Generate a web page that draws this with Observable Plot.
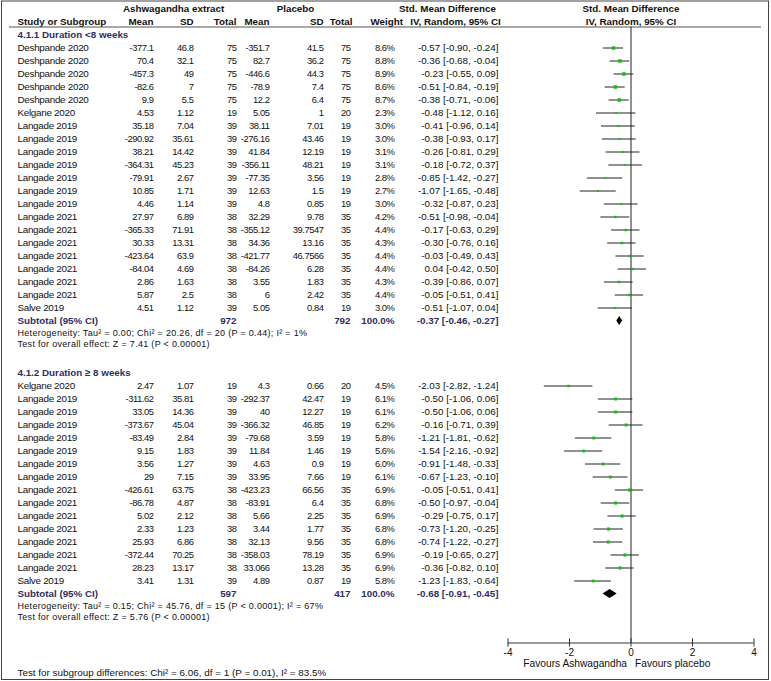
<!DOCTYPE html>
<html>
<head>
<meta charset="utf-8">
<script src="https://cdn.jsdelivr.net/npm/d3@7"></script>
<script src="https://cdn.jsdelivr.net/npm/@observablehq/plot@0.6"></script>
<style>
  body { margin: 0; background: #fff; }
  #chart svg { display: block; }
  #chart g[aria-description="num"] text { letter-spacing: -0.45px; }
  #chart g[aria-description="name"] text { letter-spacing: -0.3px; }
  #chart g[aria-description="stat"] text { letter-spacing: 0.3px; }
</style>
</head>
<body>
<div id="chart"></div>
<script>
// ---- Data ----
// [study, mean1, sd1, total1, mean2, sd2, total2, weight%, smd, lo, hi]
const group1 = [
  ["Deshpande 2020", -377.1, 46.8, 75, -351.7, 41.5, 75, 8.6, -0.57, -0.90, -0.24],
  ["Deshpande 2020", 70.4, 32.1, 75, 82.7, 36.2, 75, 8.8, -0.36, -0.68, -0.04],
  ["Deshpande 2020", -457.3, 49, 75, -446.6, 44.3, 75, 8.9, -0.23, -0.55, 0.09],
  ["Deshpande 2020", -82.6, 7, 75, -78.9, 7.4, 75, 8.6, -0.51, -0.84, -0.19],
  ["Deshpande 2020", 9.9, 5.5, 75, 12.2, 6.4, 75, 8.7, -0.38, -0.71, -0.06],
  ["Kelgane 2020", 4.53, 1.12, 19, 5.05, 1, 20, 2.3, -0.48, -1.12, 0.16],
  ["Langade 2019", 35.18, 7.04, 39, 38.11, 7.01, 19, 3.0, -0.41, -0.96, 0.14],
  ["Langade 2019", -290.92, 35.61, 39, -276.16, 43.46, 19, 3.0, -0.38, -0.93, 0.17],
  ["Langade 2019", 38.21, 14.42, 39, 41.84, 12.19, 19, 3.1, -0.26, -0.81, 0.29],
  ["Langade 2019", -364.31, 45.23, 39, -356.11, 48.21, 19, 3.1, -0.18, -0.72, 0.37],
  ["Langade 2019", -79.91, 2.67, 39, -77.35, 3.56, 19, 2.8, -0.85, -1.42, -0.27],
  ["Langade 2019", 10.85, 1.71, 39, 12.63, 1.5, 19, 2.7, -1.07, -1.65, -0.48],
  ["Langade 2019", 4.46, 1.14, 39, 4.8, 0.85, 19, 3.0, -0.32, -0.87, 0.23],
  ["Langade 2021", 27.97, 6.89, 38, 32.29, 9.78, 35, 4.2, -0.51, -0.98, -0.04],
  ["Langade 2021", -365.33, 71.91, 38, -355.12, 39.7547, 35, 4.4, -0.17, -0.63, 0.29],
  ["Langade 2021", 30.33, 13.31, 38, 34.36, 13.16, 35, 4.3, -0.30, -0.76, 0.16],
  ["Langade 2021", -423.64, 63.9, 38, -421.77, 46.7566, 35, 4.4, -0.03, -0.49, 0.43],
  ["Langade 2021", -84.04, 4.69, 38, -84.26, 6.28, 35, 4.4, 0.04, -0.42, 0.50],
  ["Langade 2021", 2.86, 1.63, 38, 3.55, 1.83, 35, 4.3, -0.39, -0.86, 0.07],
  ["Langade 2021", 5.87, 2.5, 38, 6, 2.42, 35, 4.4, -0.05, -0.51, 0.41],
  ["Salve 2019", 4.51, 1.12, 39, 5.05, 0.84, 19, 3.0, -0.51, -1.07, 0.04]
];
const group2 = [
  ["Kelgane 2020", 2.47, 1.07, 19, 4.3, 0.66, 20, 4.5, -2.03, -2.82, -1.24],
  ["Langade 2019", -311.62, 35.81, 39, -292.37, 42.47, 19, 6.1, -0.50, -1.06, 0.06],
  ["Langade 2019", 33.05, 14.36, 39, 40, 12.27, 19, 6.1, -0.50, -1.06, 0.06],
  ["Langade 2019", -373.67, 45.04, 39, -366.32, 46.85, 19, 6.2, -0.16, -0.71, 0.39],
  ["Langade 2019", -83.49, 2.84, 39, -79.68, 3.59, 19, 5.8, -1.21, -1.81, -0.62],
  ["Langade 2019", 9.15, 1.83, 39, 11.84, 1.46, 19, 5.6, -1.54, -2.16, -0.92],
  ["Langade 2019", 3.56, 1.27, 39, 4.63, 0.9, 19, 6.0, -0.91, -1.48, -0.33],
  ["Langade 2019", 29, 7.15, 39, 33.95, 7.66, 19, 6.1, -0.67, -1.23, -0.10],
  ["Langade 2021", -426.61, 63.75, 38, -423.23, 66.56, 35, 6.9, -0.05, -0.51, 0.41],
  ["Langade 2021", -86.78, 4.87, 38, -83.91, 6.4, 35, 6.8, -0.50, -0.97, -0.04],
  ["Langade 2021", 5.02, 2.12, 38, 5.66, 2.25, 35, 6.9, -0.29, -0.75, 0.17],
  ["Langade 2021", 2.33, 1.23, 38, 3.44, 1.77, 35, 6.8, -0.73, -1.20, -0.25],
  ["Langade 2021", 25.93, 6.86, 38, 32.13, 9.56, 35, 6.8, -0.74, -1.22, -0.27],
  ["Langade 2021", -372.44, 70.25, 38, -358.03, 78.19, 35, 6.9, -0.19, -0.65, 0.27],
  ["Langade 2021", 28.23, 13.17, 38, 33.066, 13.28, 35, 6.9, -0.36, -0.82, 0.10],
  ["Salve 2019", 3.41, 1.31, 39, 4.89, 0.87, 19, 5.8, -1.23, -1.83, -0.64]
];
const groupTitles = ["4.1.1 Duration <8 weeks", "4.1.2 Duration \u2265 8 weeks"];
// [total1, total2, weight, smd, lo, hi]
const subtotals = [
  [972, 792, 100.0, -0.37, -0.46, -0.27],
  [597, 417, 100.0, -0.68, -0.91, -0.45]
];
const heterogeneity = [
  "Heterogeneity: Tau\u00b2 = 0.00; Chi\u00b2 = 20.26, df = 20 (P = 0.44); I\u00b2 = 1%",
  "Heterogeneity: Tau\u00b2 = 0.15; Chi\u00b2 = 45.76, df = 15 (P < 0.0001); I\u00b2 = 67%"
];
const overallEffect = [
  "Test for overall effect: Z = 7.41 (P < 0.00001)",
  "Test for overall effect: Z = 5.76 (P < 0.00001)"
];
const subgroupTest = "Test for subgroup differences: Chi\u00b2 = 6.06, df = 1 (P = 0.01), I\u00b2 = 83.5%";
const axisTicks = [-4, -2, 0, 2, 4];
const favours = ["Favours Ashwagandha", "Favours placebo"];

// ---- Layout (rows) ----
const groupStart = [0, 26];           // row index of each group's title
const rows = [];
const subs = [];
[group1, group2].forEach((g, gi) => {
  const s = groupStart[gi];
  g.forEach((r, k) => rows.push({
    g: gi, i: s + 1 + k, study: r[0], m1: r[1], s1: r[2], n1: r[3],
    m2: r[4], s2: r[5], n2: r[6], w: r[7], est: r[8], lo: r[9], hi: r[10]
  }));
  const t = subtotals[gi];
  const si = s + 1 + g.length;
  subs.push({g: gi, title: groupTitles[gi], ti: s, i: si, n1: t[0], n2: t[1], w: t[2], est: t[3], lo: t[4], hi: t[5],
             het: heterogeneity[gi], ove: overallEffect[gi]});
});
const diamondPts = subs.flatMap(s => [
  {g: s.g, x: s.lo, y1: s.i, y2: s.i},
  {g: s.g, x: s.est, y1: s.i - 0.34, y2: s.i + 0.34},
  {g: s.g, x: s.hi, y1: s.i, y2: s.i}
]);

const fmt2 = v => v.toFixed(2);
const ciText = d => `${fmt2(d.est)} [${fmt2(d.lo)}, ${fmt2(d.hi)}]`;

const HEAD1 = -2.04, HEAD2 = -1.04, HLINE = -0.615;
const AXIS = 46.77, TICKLAB = 47.55, FAV = 48.4, FOOT = 49.1;
const font = "'Liberation Sans', Arial, Helvetica, sans-serif";
const FS = 9.9, FN = 9.4, FH = 9.8, FSS = 9;
const navy = "#2f2f5f";

const col = {study: 17, m1: 153, s1: 193, n1: 236, m2: 269, s2: 323, n2: 350, w: 394, ci: 498};

const T = (data, opts) => Plot.text(data, {frameAnchor: "left", fontSize: FS, fill: "#111", ...opts});
const N = (data, opts) => T(data, {fontSize: FN, textAnchor: "end", ariaDescription: "num", ...opts});

const headerRow1 = [
  {t: "Ashwagandha extract", dx: 173},
  {t: "Placebo", dx: 295},
  {t: "Std. Mean Difference", dx: 447}
];
const headerRow2 = [
  {t: "Study or Subgroup", dx: col.study, a: "start"},
  {t: "Mean", dx: col.m1, a: "end"},
  {t: "SD", dx: col.s1, a: "end"},
  {t: "Total", dx: col.n1, a: "end"},
  {t: "Mean", dx: col.m2, a: "end"},
  {t: "SD", dx: col.s2, a: "end"},
  {t: "Total", dx: col.n2 + 2, a: "end"},
  {t: "Weight", dx: 370, a: "start"},
  {t: "IV, Random, 95% CI", dx: 455, a: "middle"}
];

const marks = [
  Plot.frame({stroke: "#444", insetLeft: 1, insetRight: 3, insetBottom: 2, insetTop: 0.5}),
  // header
  ...headerRow1.map(h => T([h], {y: () => HEAD1, text: d => d.t, dx: h.dx, textAnchor: "middle", fontWeight: "bold", fontSize: FH})),
  ...headerRow2.map(h => T([h], {y: () => HEAD2, text: d => d.t, dx: h.dx, textAnchor: h.a, fontWeight: "bold", fontSize: FH})),
  Plot.text(["Std. Mean Difference"], {x: () => 0, y: () => HEAD1, text: d => d, fontSize: FH, fontWeight: "bold", fill: "#111"}),
  Plot.text(["IV, Random, 95% CI"], {x: () => 0, y: () => HEAD2, text: d => d, fontSize: FH, fontWeight: "bold", fill: "#111"}),
  Plot.ruleY([HLINE], {stroke: "#555", insetLeft: 9, insetRight: 10}),
  // group titles
  T(subs, {y: "ti", text: "title", dx: col.study, textAnchor: "start", fontWeight: "bold", fill: navy, fontSize: FH}),
  // study rows
  T(rows, {y: "i", text: "study", dx: col.study, textAnchor: "start", ariaDescription: "name"}),
  N(rows, {y: "i", text: d => String(d.m1), dx: col.m1}),
  N(rows, {y: "i", text: d => String(d.s1), dx: col.s1}),
  N(rows, {y: "i", text: d => String(d.n1), dx: col.n1}),
  N(rows, {y: "i", text: d => String(d.m2), dx: col.m2}),
  N(rows, {y: "i", text: d => String(d.s2), dx: col.s2}),
  N(rows, {y: "i", text: d => String(d.n2), dx: col.n2}),
  N(rows, {y: "i", text: d => d.w.toFixed(1) + "%", dx: col.w}),
  T(rows, {y: "i", text: ciText, dx: col.ci, textAnchor: "end", fontSize: 9.8}),
  // subtotal rows
  T(subs, {y: "i", text: () => "Subtotal (95% CI)", dx: col.study, textAnchor: "start", fontWeight: "bold", fill: navy, fontSize: FH}),
  T(subs, {y: "i", text: d => String(d.n1), dx: col.n1, textAnchor: "end", fontWeight: "bold", fill: navy, fontSize: FH}),
  T(subs, {y: "i", text: d => String(d.n2), dx: col.n2, textAnchor: "end", fontWeight: "bold", fill: navy, fontSize: FH}),
  T(subs, {y: "i", text: d => d.w.toFixed(1) + "%", dx: col.w, textAnchor: "end", fontWeight: "bold", fill: navy, fontSize: FH}),
  T(subs, {y: "i", text: ciText, dx: col.ci, textAnchor: "end", fontWeight: "bold", fill: navy, fontSize: FH}),
  T(subs, {y: d => d.i + 0.93, text: "het", dx: col.study, textAnchor: "start", fontSize: FSS, ariaDescription: "stat"}),
  T(subs, {y: d => d.i + 1.74, text: "ove", dx: col.study, textAnchor: "start", fontSize: FSS, ariaDescription: "stat"}),
  T([subgroupTest], {y: () => FOOT, text: d => d, dx: col.study, textAnchor: "start", fontSize: 9.9}),
  // forest plot
  Plot.ruleX([0], {y1: HLINE, y2: AXIS, stroke: "#222"}),
  Plot.ruleY(rows, {y: "i", x1: "lo", x2: "hi", stroke: "#222"}),
  Plot.dot(rows, {x: "est", y: "i", r: "w", symbol: "square", fill: "#10c010", stroke: null}),
  Plot.areaY(diamondPts, {x: "x", y1: "y1", y2: "y2", z: "g", fill: "#000", curve: "linear"}),
  // axis
  Plot.ruleY([AXIS], {x1: axisTicks[0], x2: axisTicks[axisTicks.length - 1], stroke: "#333"}),
  Plot.ruleX(axisTicks, {x: d => d, y1: AXIS - 0.32, y2: AXIS + 0.32, stroke: "#333"}),
  Plot.text(axisTicks, {x: d => d, y: () => TICKLAB, text: d => String(d), fontSize: 10, fill: "#111"}),
  Plot.text([favours[0]], {x: () => 0, y: () => FAV, text: d => d, dx: -4, textAnchor: "end", fontSize: 10.2, fill: "#111"}),
  Plot.text([favours[1]], {x: () => 0, y: () => FAV, text: d => d, dx: 4, textAnchor: "start", fontSize: 10.2, fill: "#111"})
];

const chart = Plot.plot({
  width: 771,
  height: 681,
  margin: 0,
  style: {fontFamily: font, background: "#fff", color: "#111"},
  x: {type: "linear", domain: [-4, 4], range: [507.5, 753.5], axis: null},
  y: {type: "linear", domain: [0, 48], range: [34.5, 34.5 + 13 * 48], axis: null},
  r: {type: "sqrt", domain: [0, 9], range: [0, 2.0]},
  marks
});
document.getElementById("chart").append(chart);
</script>
</body>
</html>
